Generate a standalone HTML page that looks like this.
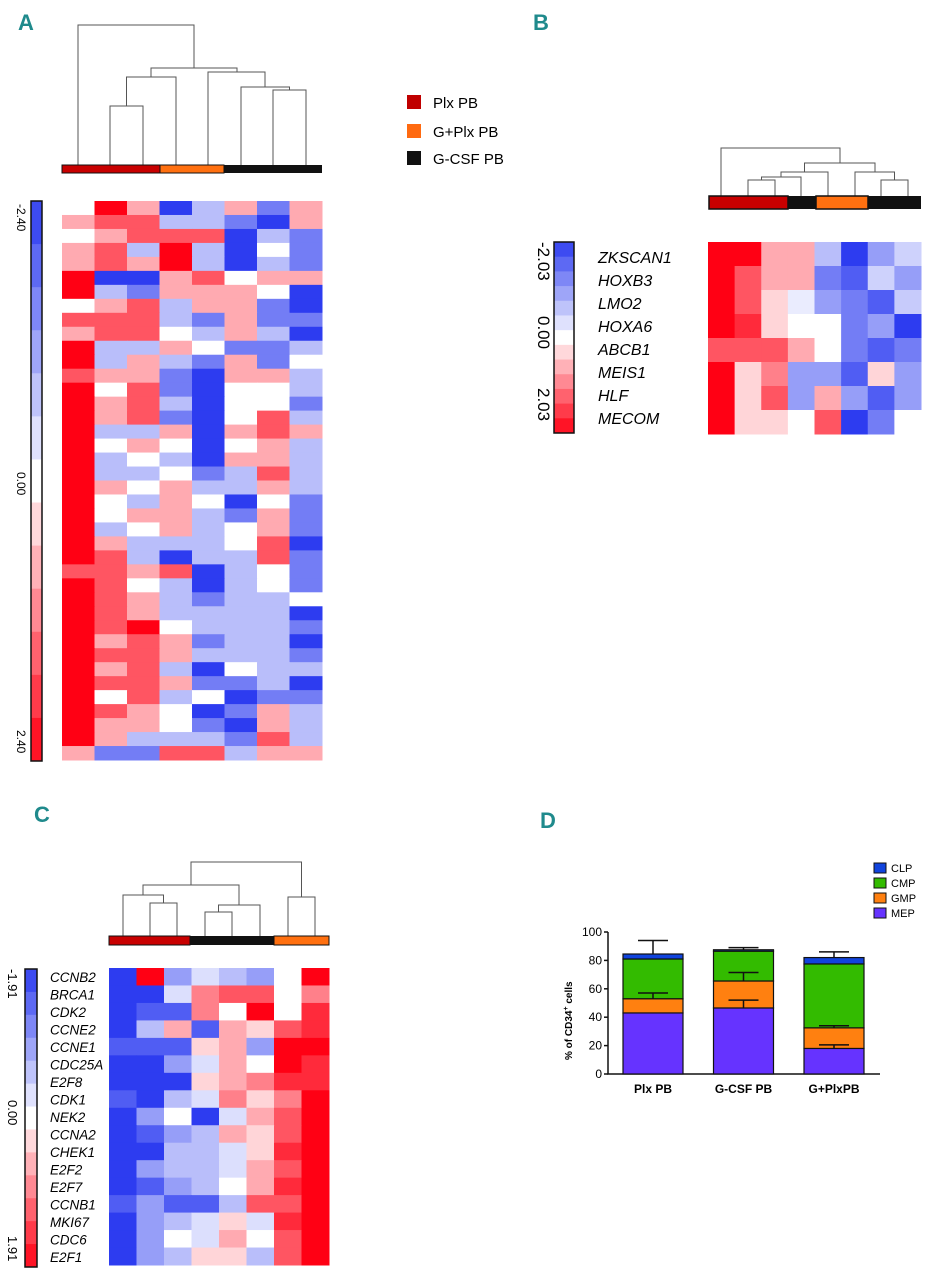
<!DOCTYPE html>
<html><head><meta charset="utf-8">
<style>
html,body{margin:0;padding:0;background:#fff;}
svg{display:block;font-family:"Liberation Sans",sans-serif;}
.lbl{font-family:"Liberation Sans Narrow","Liberation Sans",sans-serif;font-weight:bold;fill:#1f8a8c;font-size:22px;}
.gene{font-style:italic;}
</style></head>
<body>
<svg id="fig" width="930" height="1280" viewBox="0 0 930 1280" xmlns="http://www.w3.org/2000/svg">
<text class="lbl" x="18" y="30">A</text>
<text class="lbl" x="533" y="30">B</text>
<text class="lbl" x="34" y="822">C</text>
<text class="lbl" x="540" y="828">D</text>

<g font-size="15">
<rect x="407" y="95" width="14" height="14" fill="#c00000"/>
<text x="433" y="108">Plx PB</text>
<rect x="407" y="124" width="14" height="14" fill="#ff6a10"/>
<text x="433" y="137">G+Plx PB</text>
<rect x="407" y="151" width="14" height="14" fill="#111"/>
<text x="433" y="164">G-CSF PB</text>
</g>

<!-- Panel A static -->
<g id="pa">
<path fill="none" stroke="#555" stroke-width="1"
 d="M110,165V106H143V165 M126.5,106V77H176V165 M273,165V90H306V165 M241,165V87H289.5V90 M208,165V72H265V87 M151,77V68H237V72 M78,165V25H194V68"/>
<rect x="62" y="165" width="98" height="8" fill="#c80000" stroke="#111" stroke-width="1"/>
<rect x="160" y="165" width="64" height="8" fill="#ff7010" stroke="#111" stroke-width="1"/>
<rect x="224" y="165" width="98" height="8" fill="#111"/>
<g id="cbA"></g>
<text transform="translate(17,204) rotate(90)" font-size="12">-2.40</text>
<text transform="translate(17,472) rotate(90)" font-size="12">0.00</text>
<text transform="translate(17,730) rotate(90)" font-size="12">2.40</text>
<g id="hmA"></g>
</g>

<!-- Panel B static -->
<g id="pb">
<path fill="none" stroke="#555" stroke-width="1"
 d="M748,196V180H775V196 M761.5,180V177H801V196 M781,177V172H828V196 M881,196V180H908V196 M855,196V172H894.5V180 M804.5,172V163H875V172 M721,196V148H840V163"/>
<rect x="709" y="196" width="79" height="13" fill="#c80000" stroke="#111" stroke-width="1.5"/>
<rect x="788" y="196" width="28" height="13" fill="#111"/>
<rect x="816" y="196" width="52" height="13" fill="#ff7010" stroke="#111" stroke-width="1.5"/>
<rect x="868" y="196" width="53" height="13" fill="#111"/>
<g id="cbB"></g>
<text transform="translate(538,242) rotate(90)" font-size="17">-2.03</text>
<text transform="translate(538,316) rotate(90)" font-size="17">0.00</text>
<text transform="translate(538,388) rotate(90)" font-size="17">2.03</text>
<g font-size="16" class="gene">
<text x="598" y="263">ZKSCAN1</text>
<text x="598" y="286">HOXB3</text>
<text x="598" y="309">LMO2</text>
<text x="598" y="332">HOXA6</text>
<text x="598" y="355">ABCB1</text>
<text x="598" y="378">MEIS1</text>
<text x="598" y="401">HLF</text>
<text x="598" y="424">MECOM</text>
</g>
<g id="hmB"></g>
</g>

<!-- Panel C static -->
<g id="pc">
<path fill="none" stroke="#555" stroke-width="1"
 d="M150,936V903H177V936 M123,936V895H163.5V903 M205,936V912H232V936 M218.5,912V905H260V936 M143,895V885H239V905 M288,936V897H315V936 M191,885V862H301.5V897"/>
<rect x="109" y="936" width="81" height="9" fill="#c80000" stroke="#111" stroke-width="1"/>
<rect x="190" y="936" width="84" height="9" fill="#111"/>
<rect x="274" y="936" width="55" height="9" fill="#ff7010" stroke="#111" stroke-width="1"/>
<g id="cbC"></g>
<text transform="translate(8,969) rotate(90)" font-size="13">-1.91</text>
<text transform="translate(8,1100) rotate(90)" font-size="13">0.00</text>
<text transform="translate(8,1236) rotate(90)" font-size="13">1.91</text>
<g font-size="13.5" class="gene">
<text x="50" y="982">CCNB2</text>
<text x="50" y="999.5">BRCA1</text>
<text x="50" y="1017">CDK2</text>
<text x="50" y="1034.5">CCNE2</text>
<text x="50" y="1052">CCNE1</text>
<text x="50" y="1069.5">CDC25A</text>
<text x="50" y="1087">E2F8</text>
<text x="50" y="1104.5">CDK1</text>
<text x="50" y="1122">NEK2</text>
<text x="50" y="1139.5">CCNA2</text>
<text x="50" y="1157">CHEK1</text>
<text x="50" y="1174.5">E2F2</text>
<text x="50" y="1192">E2F7</text>
<text x="50" y="1209.5">CCNB1</text>
<text x="50" y="1227">MKI67</text>
<text x="50" y="1244.5">CDC6</text>
<text x="50" y="1262">E2F1</text>
</g>
<g id="hmC"></g>
</g>

<!-- Panel D static -->
<g id="pd">
<g font-size="11">
<rect x="874" y="863" width="12" height="10" fill="#1144dd" stroke="#111"/>
<text x="891" y="872">CLP</text>
<rect x="874" y="878" width="12" height="10" fill="#33bb00" stroke="#111"/>
<text x="891" y="887">CMP</text>
<rect x="874" y="893" width="12" height="10" fill="#ff8010" stroke="#111"/>
<text x="891" y="902">GMP</text>
<rect x="874" y="908" width="12" height="10" fill="#6633ff" stroke="#111"/>
<text x="891" y="917">MEP</text>
</g>
<text transform="translate(572,1060) rotate(-90)" font-size="10" font-weight="bold">% of CD34<tspan font-size="7" dy="-4">+</tspan><tspan dy="4"> cells</tspan></text>
<g id="chartD"></g>
</g>
</svg>
<script>
// ---------- Panel A data (scale -3..3 => -2.40..2.40) ----------
const rowsA = [
[0,3,1,-3,-1,1,-2,1],[1,2,2,-1,-1,-2,-3,1],[0,1,2,2,2,-3,-1,-2],[1,2,-1,3,-1,-3,0,-2],
[1,2,1,3,-1,-3,-1,-2],[3,-3,-3,1,2,0,1,1],[3,-1,-2,1,1,1,0,-3],[0,1,2,-1,1,1,-2,-3],
[2,2,2,-1,-2,1,-2,-2],[1,2,2,0,-1,1,-1,-3],[3,-1,-1,1,0,-2,-2,-1],[3,-1,1,-1,-2,1,-2,0],
[2,1,1,-2,-3,1,1,-1],[3,0,2,-2,-3,0,0,-1],[3,1,2,-1,-3,0,0,-2],[3,1,2,-2,-3,0,2,-1],
[3,-1,-1,1,-3,1,2,1],[3,0,1,0,-3,0,1,-1],[3,-1,0,-1,-3,1,1,-1],[3,-1,-1,0,-2,-1,2,-1],
[3,1,0,1,-1,-1,1,-1],[3,0,-1,1,0,-3,0,-2],[3,0,1,1,-1,-2,1,-2],[3,-1,0,1,-1,0,1,-2],
[3,1,-1,-1,-1,0,2,-3],[3,2,-1,-3,-1,-1,2,-2],[2,2,1,2,-3,-1,0,-2],[3,2,0,-1,-3,-1,0,-2],
[3,2,1,-1,-2,-1,-1,0],[3,2,1,-1,-1,-1,-1,-3],[3,2,3,0,-1,-1,-1,-2],[3,1,2,1,-2,-1,-1,-3],
[3,2,2,1,-1,-1,-1,-2],[3,1,2,-1,-3,0,-1,-1],[3,2,2,1,-2,-2,-1,-3],[3,0,2,-1,0,-3,-2,-2],
[3,2,1,0,-3,-2,1,-1],[3,1,1,0,-2,-3,1,-1],[3,1,-1,-1,-1,-2,2,-1],[1,-2,-2,2,2,-1,1,1]
];
// ---------- Panel B data ----------
const genesB = ["ZKSCAN1","HOXB3","LMO2","HOXA6","ABCB1","MEIS1","HLF","MECOM"];
const rowsB = [
[3,3,1,1,-1,-3,-1.5,-0.7],[3,2,1,1,-2,-2.5,-0.7,-1.5],[3,2,0.5,-0.3,-1.5,-2,-2.5,-0.8],
[3,2.5,0.5,0,0,-2,-1.5,-3],[2,2,2,1,0,-2,-2.5,-2],[3,0.5,1.5,-1.5,-1.5,-2.5,0.5,-1.5],
[3,0.5,2,-1.5,1,-1.5,-2.5,-1.5],[3,0.5,0.5,0,2,-3,-2,0]
];
// ---------- Panel C data ----------
const genesC = ["CCNB2","BRCA1","CDK2","CCNE2","CCNE1","CDC25A","E2F8","CDK1","NEK2","CCNA2","CHEK1","E2F2","E2F7","CCNB1","MKI67","CDC6","E2F1"];
const rowsC = [
[-3,3,-1.5,-0.5,-1,-1.5,0,3],[-3,-3,-0.5,1.5,2,2,0,1.5],[-3,-2.5,-2.5,1.5,0,3,0,2.5],
[-3,-1,1,-2.5,1,0.5,2,2.5],[-2.5,-2.5,-2.5,0.5,1,-1.5,3,3],[-3,-3,-1.5,-0.5,1,0,3,2.5],
[-3,-3,-3,0.5,1,1.5,2.5,2.5],[-2.5,-3,-1,-0.5,1.5,0.5,1.5,3],[-3,-1.5,0,-3,-0.5,1,2,3],
[-3,-2.5,-1.5,-1,1,0.5,2,3],[-3,-3,-1,-1,-0.5,0.5,2.5,3],[-3,-1.5,-1,-1,-0.5,1,2,3],
[-3,-2.5,-1.5,-1,0,1,2.5,3],[-2.5,-1.5,-2.5,-2.5,-1,2,2,3],[-3,-1.5,-1,-0.5,0.5,-0.5,2.5,3],
[-3,-1.5,0,-0.5,1,0,2,3],[-3,-1.5,-1,0.5,0.5,-1,2,3]
];
// ---------- Panel D data ----------
const categoriesD = ["Plx PB","G-CSF PB","G+PlxPB"];
const mepD = [43,46.5,18];
const gmpD = [10,19,14.5];
const cmpD = [28,21,45];
const clpD = [3.5,1,4.5];
const errTopD = [94,89,86];
const errCmpD = [null,null,null];
const errGmpD = [57,71.5,34];
const errMepD = [null,52,20.5];
const yTicksD = [0,20,40,60,80,100];

const NS="http://www.w3.org/2000/svg";
function mk(tag,attrs,parent){const e=document.createElementNS(NS,tag);for(const k in attrs)e.setAttribute(k,attrs[k]);parent.appendChild(e);return e;}
function col(v){let t=Math.max(-1,Math.min(1,v/3));
 if(t<0){t=-t;const r=Math.round(255+(45-255)*t),g=Math.round(255+(60-255)*t),b=Math.round(255+(240-255)*t);return `rgb(${r},${g},${b})`;}
 const r=255,g=Math.round(255*(1-t)),b=Math.round(255+(20-255)*t);return `rgb(${r},${g},${b})`;}
function heat(gid,rows,x0,x1,y0,y1,name){
 const g=document.getElementById(gid);const nr=rows.length,nc=rows[0].length;
 const cw=(x1-x0)/nc,rh=(y1-y0)/nr;
 rows.forEach((row,i)=>row.forEach((v,j)=>{
  const r=mk('rect',{x:x0+j*cw,y:y0+i*rh,width:cw+0.5,height:rh+0.5,fill:col(v)},g);
  
  
 }));}
function cbar(gid,x,y,w,h,steps){
 const g=document.getElementById(gid);const sh=h/steps;
 for(let i=0;i<steps;i++){const v=-3+6*(i+0.5)/steps;
  const r=mk('rect',{x:x,y:y+i*sh,width:w,height:sh+0.5,fill:col(v)},g);
  
  }
 const b=mk('rect',{x:x,y:y,width:w,height:h,fill:'none',stroke:'#111','stroke-width':1.5},g);
 
 }
heat('hmA',rowsA,62,322,201,760,'heatmap-a');
cbar('cbA',31,201,11,560,13);
heat('hmB',rowsB,708,921,242,434,'heatmap-b');
cbar('cbB',554,242,20,191,13);
heat('hmC',rowsC,109,329,968,1265,'heatmap-c');
cbar('cbC',25,969,12,298,13);

// ---------- Panel D chart ----------
(function(){
 const g=document.getElementById('chartD');
 const X0=608,Y0=1074,PX=1.42;
 const yS=v=>Y0-v*PX;
 const barX=i=>623+i*90.5, BW=60;
 const ax=mk('path',{d:`M${X0},${yS(100)}V${Y0}H880`,stroke:'#111','stroke-width':1.5,fill:'none'},g);
 
 
 yTicksD.forEach(t=>{
  const l=mk('line',{x1:X0-4,x2:X0,y1:yS(t),y2:yS(t),stroke:'#111','stroke-width':1.5},g);
  
  
  const tx=mk('text',{x:X0-6,y:yS(t)+4,'text-anchor':'end','font-size':12},g);
  
  
  tx.textContent=t;});
 const series=[[mepD,'#6633ff','mep'],[gmpD,'#ff8010','gmp'],[cmpD,'#33bb00','cmp'],[clpD,'#1144dd','clp']];
 categoriesD.forEach((c,i)=>{
  let base=0;
  series.forEach(([arr,fill,nm])=>{
   const v=arr[i];
   const r=mk('rect',{x:barX(i),y:yS(base+v),width:BW,height:v*PX,fill:fill,stroke:'#111','stroke-width':1.2},g);
   
   
   base+=v;});
  const cx=barX(i)+BW/2;
  const tops=[mepD[i],mepD[i]+gmpD[i],mepD[i]+gmpD[i]+cmpD[i],base];
  [[errMepD[i],tops[0]],[errGmpD[i],tops[1]],[errCmpD[i],tops[2]],[errTopD[i],tops[3]]].forEach(([e,b])=>{
   if(e==null)return;
   const p=mk('path',{d:`M${cx},${yS(b)}V${yS(e)}M${cx-15},${yS(e)}H${cx+15}`,stroke:'#111','stroke-width':1.5,fill:'none'},g);
   
   });
  const t=mk('text',{x:cx,y:1093,'text-anchor':'middle','font-size':12,'font-weight':'bold'},g);
  
  
  t.textContent=c;
 });
})();
</script>
</body></html>
